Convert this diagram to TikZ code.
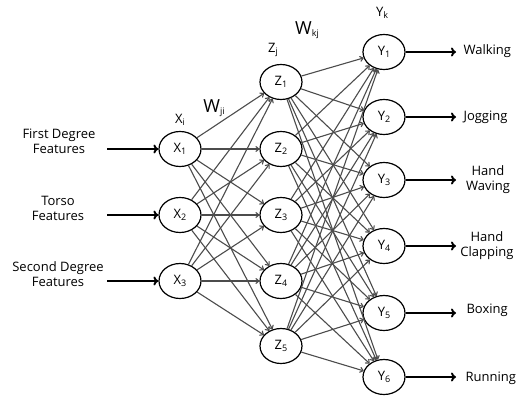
\documentclass[tikz,border=0pt]{standalone}
\usepackage{fontspec}
\setmainfont{Open Sans}
\usetikzlibrary{shapes.geometric,arrows.meta}
\begin{document}
\begin{tikzpicture}[x=1pt,y=-1pt,
  neuron/.style={draw=black,line width=1.2pt,ellipse,minimum width=42pt,minimum height=35pt,inner sep=0pt,font=\fontsize{13}{14}\selectfont},
  conn/.style={draw=gray!60!black,line width=1.1pt,-{To[length=4pt,width=6pt]}},
  io/.style={line width=1.9pt,-{To[length=5pt,width=9pt]}},
  lab/.style={font=\fontsize{13}{15}\selectfont,align=center},
  head/.style={font=\fontsize{13}{14}\selectfont},
  whead/.style={font=\fontsize{18}{19}\selectfont}]
\useasboundingbox (0,0) rectangle (520,396);
\newcommand{\sbs}[2]{#1\raisebox{-1.5pt}{\fontsize{9}{10}\selectfont #2}}
% nodes
\node[neuron] (x1) at (180,149) {\sbs{X}{1}};
\node[neuron] (x2) at (180,215) {\sbs{X}{2}};
\node[neuron] (x3) at (180,281) {\sbs{X}{3}};
\node[neuron] (z1) at (281,82) {\sbs{Z}{1}};
\node[neuron] (z2) at (281,149) {\sbs{Z}{2}};
\node[neuron] (z3) at (281,215) {\sbs{Z}{3}};
\node[neuron] (z4) at (281,281) {\sbs{Z}{4}};
\node[neuron] (z5) at (281,346) {\sbs{Z}{5}};
\node[neuron] (y1) at (384,52) {\sbs{Y}{1}};
\node[neuron] (y2) at (384,117) {\sbs{Y}{2}};
\node[neuron] (y3) at (384,180) {\sbs{Y}{3}};
\node[neuron] (y4) at (384,246) {\sbs{Y}{4}};
\node[neuron] (y5) at (384,313) {\sbs{Y}{5}};
\node[neuron] (y6) at (384,377) {\sbs{Y}{6}};
% headings
\node[head] (hx) at (180,120) {\sbs{X}{i}};
\node[whead] (hw1) at (214,108) {\sbs{W}{ji}};
\node[head] (hz) at (273,50) {\sbs{Z}{j}};
\node[whead] (hw2) at (307,30) {\sbs{W}{kj}};
\node[head] (hy) at (382,13) {\sbs{Y}{k}};
% connections
\foreach \i in {1,2,3}{\foreach \j in {1,...,5}{\draw[conn] (x\i) -- (z\j);}}
\foreach \j in {1,...,5}{\foreach \k in {1,...,6}{\draw[conn] (z\j) -- (y\k);}}
% inputs
\node[lab] (in1) at (59,141) {First Degree\\Features};
\node[lab] (in2) at (58,208) {Torso\\Features};
\node[lab] (in3) at (58,274) {Second Degree\\Features};
\coordinate (a1) at (107,149);
\coordinate (a2) at (107,215);
\coordinate (a3) at (107,281);
\draw[io] (a1) -- (x1);
\draw[io] (a2) -- (x2);
\draw[io] (a3) -- (x3);
% outputs
\node[lab,anchor=west] (o1) at (460,51) {Walking};
\node[lab,anchor=west] (o2) at (460,117) {Jogging};
\node[lab] (o3) at (488,180) {Hand\\Waving};
\node[lab] (o4) at (487,246) {Hand\\Clapping};
\node[lab,anchor=west] (o5) at (463,310) {Boxing};
\node[lab,anchor=west] (o6) at (462,378) {Running};
\coordinate (b1) at (456,52);
\coordinate (b2) at (456,117);
\coordinate (b3) at (456,180);
\coordinate (b4) at (456,246);
\coordinate (b5) at (456,313);
\coordinate (b6) at (456,377);
\foreach \k in {1,...,6}{\draw[io] (y\k) -- (b\k);}
\end{tikzpicture}
\end{document}
